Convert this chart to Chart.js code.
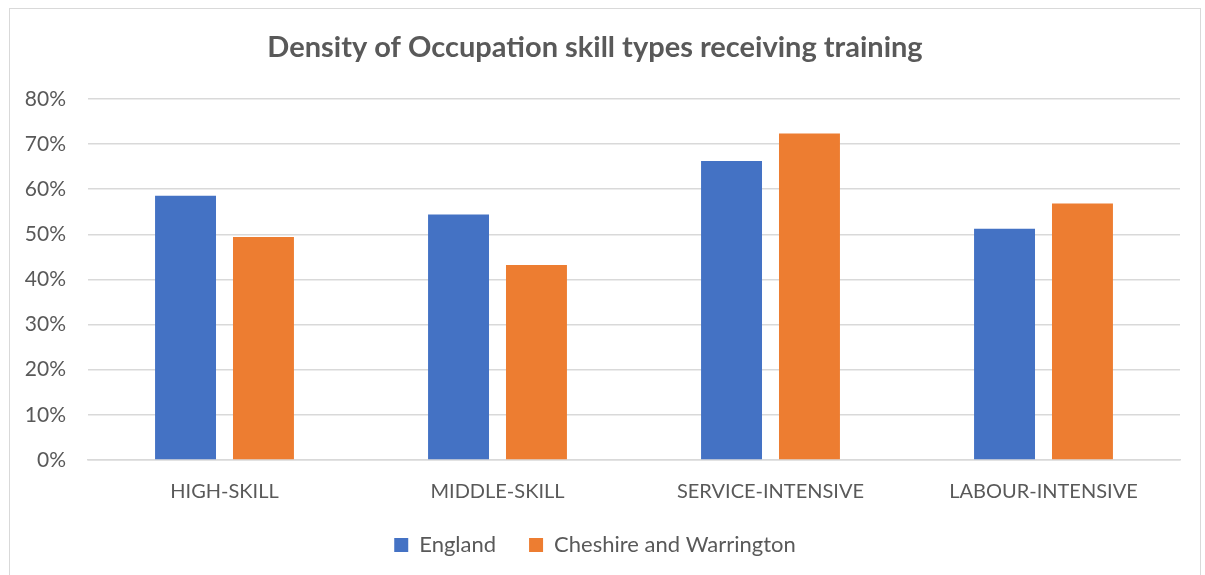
<!DOCTYPE html>
<html lang="en">
<head>
<meta charset="UTF-8">
<title>Density of Occupation skill types receiving training</title>
<script src="https://cdn.jsdelivr.net/npm/chart.js"></script>
<style>
    body { margin: 0; background: #fff; }
    .frame {
        position: absolute;
        left: 9px; top: 8px;
        width: 1190px; height: 600px;
        border: 1px solid #d9d9d9;
    }
    .chart-container {
        position: absolute;
        left: 0; top: 0;
        width: 1205px; height: 575px;
    }
</style>
</head>
<body>
<div class="frame"></div>
<div class="chart-container">
    <canvas id="myChart"></canvas>
</div>

<script>
const skillTypes = ['HIGH-SKILL', 'MIDDLE-SKILL', 'SERVICE-INTENSIVE', 'LABOUR-INTENSIVE'];
const englandShare = [58.5, 54.4, 66.2, 51.2];
const cheshireShare = [49.4, 43.2, 72.3, 56.8];
const tickValues = [0, 10, 20, 30, 40, 50, 60, 70, 80];

const textColor = '#595959';
const gridColor = '#d9d9d9';
const fontFamily = 'Lato, "Open Sans", sans-serif';

const ctx = document.getElementById('myChart').getContext('2d');
const chart = new Chart(ctx, {
    type: 'bar',
    data: {
        labels: skillTypes,
        datasets: [
            {
                label: 'England',
                data: englandShare,
                backgroundColor: '#4472C4',
                categoryPercentage: 0.571,
                barPercentage: 0.782
            },
            {
                label: 'Cheshire and Warrington',
                data: cheshireShare,
                backgroundColor: '#ED7D31',
                categoryPercentage: 0.571,
                barPercentage: 0.782
            }
        ]
    },
    options: {
        responsive: true,
        maintainAspectRatio: false,
        animation: false,
        layout: {
            padding: { left: 10, right: 25, top: 0, bottom: 9 }
        },
        plugins: {
            title: {
                display: true,
                text: 'Density of Occupation skill types receiving training',
                color: textColor,
                font: { family: fontFamily, size: 29, weight: 'bold' },
                padding: { top: 30, bottom: 34 }
            },
            legend: {
                position: 'bottom',
                labels: {
                    color: textColor,
                    font: { family: fontFamily, size: 22 },
                    boxWidth: 14,
                    boxHeight: 14,
                    padding: 33
                }
            },
            tooltip: { enabled: false }
        },
        scales: {
            x: {
                grid: { display: false },
                border: { color: gridColor, width: 1.5 },
                ticks: {
                    color: textColor,
                    font: { family: fontFamily, size: 20 },
                    padding: 12,
                    maxRotation: 0
                },
                afterFit: (scale) => { scale.height = 41; }
            },
            y: {
                min: 0,
                max: 80,
                afterBuildTicks: (scale) => {
                    scale.ticks = tickValues.map(v => ({ value: v }));
                },
                grid: { color: gridColor, lineWidth: 1.5, drawTicks: false },
                border: { display: false },
                ticks: {
                    color: textColor,
                    font: { family: fontFamily, size: 21 },
                    padding: 22,
                    callback: (v) => v + '%'
                },
                afterFit: (scale) => { scale.width = 78; }
            }
        }
    }
});
</script>
</body>
</html>
